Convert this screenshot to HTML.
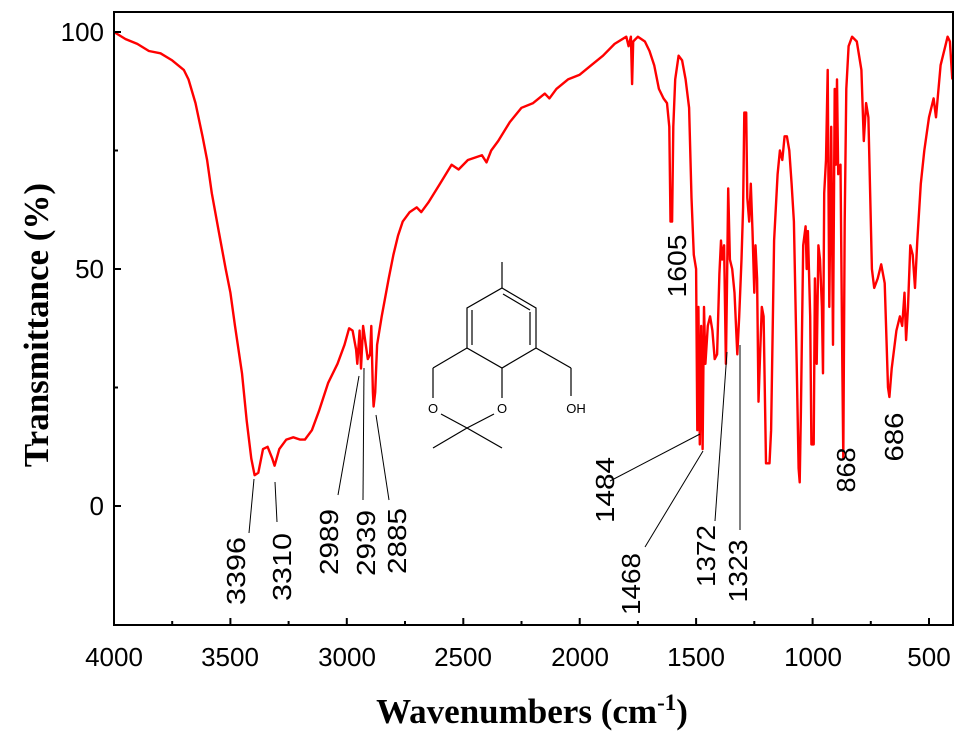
<!DOCTYPE html>
<html><head><meta charset="utf-8"><style>
html,body{margin:0;padding:0;background:#fff;}
svg{display:block;}
</style></head><body>
<svg width="975" height="733" viewBox="0 0 975 733" xmlns="http://www.w3.org/2000/svg">
<rect x="0" y="0" width="975" height="733" fill="#fff"/>
<polyline fill="none" stroke="#f00" stroke-width="2.4" stroke-linejoin="round" points="114,32 125.6,39.1 137.3,43.9 148.9,51 160.5,53.3 172.2,60.4 183.8,69.9 188.5,79.4 195.5,103.1 202.5,136.3 207.1,160 211.8,193.2 218.7,231.1 225.7,269 230.4,292.7 235,325.9 242,373.3 246.7,420.7 251.3,458.6 254.6,475.2 258.3,472.8 263,449.1 267.6,446.8 272.3,458.6 274.6,465.7 279.3,449.1 286.3,439.6 293.3,437.3 300.2,439.6 304.9,439.6 311.9,430.2 318.9,411.2 328.2,382.8 337.5,363.8 344.5,344.8 349.1,328.3 352.6,330.6 356.1,349.6 357.3,363.8 359.6,330.6 361,368.5 363.1,325.9 367.8,359.1 370.1,354.3 371.3,325.9 372.9,392.2 373.6,406.5 375.2,392.2 377.1,344.8 381.7,316.4 388.7,278.5 393.4,254.8 398,235.8 402.7,221.6 409.7,212.1 416.7,207.4 421.3,212.1 428.3,202.6 440,183.7 451.6,164.7 458.6,169.5 467.9,160 481.9,155.2 486.5,162.4 491.2,150.5 498.2,141 509.8,122.1 521.5,107.8 533.1,103.1 544.8,93.6 549.4,98.4 556.4,88.9 568,79.4 579.7,74.7 591.3,65.2 603,55.7 614.6,43.9 626.3,36.7 628.6,46.2 630.9,36.7 632.1,84.1 633.2,41.5 637.9,36.7 644.9,41.5 649.5,51 654.2,65.2 658.9,88.9 663.5,98.4 667,103.1 669.3,126.8 670.5,221.6 672.1,221.6 673.3,126.8 675.2,79.4 678.6,55.7 682.1,60.4 685.6,79.4 689.1,107.8 691.5,197.9 693.8,254.8 696.1,269 697.3,430.2 698.4,306.9 699.8,444.4 701.2,325.9 702.6,449.1 704,306.9 705.4,363.8 707.8,325.9 710.1,316.4 712.4,330.6 714.7,359.1 717.1,354.3 719.4,273.7 721,240.6 722.2,259.5 724.1,245.3 725.9,363.8 726.9,292.7 728.2,188.4 729.9,259.5 732.2,269 734.5,292.7 737.3,354.3 739.2,316.4 741.5,259.5 743.1,207.4 744.3,112.6 746.2,112.6 747.3,197.9 749.2,221.6 750.8,183.7 752.5,231.1 754.3,292.7 755.5,245.3 757.1,278.5 758.5,401.7 760.1,354.3 761.8,306.9 763.6,316.4 766,463.3 769.5,463.3 771.1,430.2 774.1,240.6 777.6,174.2 779.9,150.5 782.3,160 784.6,136.3 786.9,136.3 789.3,150.5 791.6,183.7 793.9,221.6 796.7,363.8 798.6,468.1 799.7,482.3 800.9,411.2 803.2,245.3 805.6,226.3 806.7,269 807.9,231.1 810.2,316.4 811.4,444.4 813.7,444.4 814.9,278.5 816.7,363.8 818.4,245.3 820,259.5 821.9,306.9 823,373.3 824.2,193.2 826,160 827.7,69.9 829.3,306.9 831.2,126.8 833,344.8 834.7,88.9 835.8,164.7 837,79.4 838.2,174.2 840.5,164.7 842.3,363.8 843.3,458.6 844.7,221.6 846.3,88.9 848.6,46.2 852.1,36.7 856.8,41.5 861.4,69.9 863.8,141 866.1,103.1 868.4,117.3 871.9,269 874.2,287.9 877.7,278.5 881.2,264.3 884.7,283.2 888,387.5 889.4,397 891.7,368.5 896.4,330.6 899.9,316.4 902.2,325.9 904.5,292.7 906.1,340.1 908,306.9 910.3,245.3 912.7,254.8 915,287.9 917.3,240.6 920.8,183.7 924.3,150.5 929,117.3 933.6,98.4 936,117.3 940.6,65.2 945.3,46.2 947.6,36.7 949.9,41.5 952.3,79.4"/>
<rect x="114" y="12" width="839" height="613" fill="none" stroke="#000" stroke-width="2"/>
<g stroke="#000" stroke-width="2">
<line x1="114" y1="32" x2="121" y2="32"/><line x1="114" y1="150.5" x2="118" y2="150.5"/>
<line x1="114" y1="269" x2="121" y2="269"/><line x1="114" y1="387.5" x2="118" y2="387.5"/>
<line x1="114" y1="506" x2="121" y2="506"/>
<line x1="172.2" y1="625" x2="172.2" y2="621"/><line x1="230.4" y1="625" x2="230.4" y2="618"/>
<line x1="288.6" y1="625" x2="288.6" y2="621"/><line x1="346.8" y1="625" x2="346.8" y2="618"/>
<line x1="405" y1="625" x2="405" y2="621"/><line x1="463.3" y1="625" x2="463.3" y2="618"/>
<line x1="521.5" y1="625" x2="521.5" y2="621"/><line x1="579.7" y1="625" x2="579.7" y2="618"/>
<line x1="637.9" y1="625" x2="637.9" y2="621"/><line x1="696.1" y1="625" x2="696.1" y2="618"/>
<line x1="754.3" y1="625" x2="754.3" y2="621"/><line x1="812.6" y1="625" x2="812.6" y2="618"/>
<line x1="870.8" y1="625" x2="870.8" y2="621"/><line x1="929" y1="625" x2="929" y2="618"/>
</g>
<g font-family="Liberation Sans, sans-serif" font-size="26" fill="#000" text-anchor="end">
<text x="104" y="41">100</text><text x="104" y="278">50</text><text x="104" y="515">0</text>
</g>
<g font-family="Liberation Sans, sans-serif" font-size="26" fill="#000" text-anchor="middle">
<text x="114" y="666">4000</text><text x="230" y="666">3500</text><text x="347" y="666">3000</text>
<text x="463" y="666">2500</text><text x="580" y="666">2000</text><text x="696" y="666">1500</text>
<text x="813" y="666">1000</text><text x="929" y="666">500</text>
</g>
<text x="532" y="723" font-family="Liberation Serif, serif" font-weight="bold" font-size="35" text-anchor="middle">Wavenumbers (cm<tspan dy="-13" font-size="23">-1</tspan><tspan dy="13">)</tspan></text>
<text transform="translate(48,325) rotate(-90)" font-family="Liberation Serif, serif" font-weight="bold" font-size="35" text-anchor="middle">Transmittance (%)</text>
<g stroke="#000" stroke-width="1">
<line x1="249" y1="533" x2="254" y2="479"/><line x1="277" y1="522" x2="275" y2="482"/>
<line x1="338" y1="495" x2="359" y2="376"/><line x1="363" y1="500" x2="364" y2="368"/>
<line x1="389" y1="500" x2="376" y2="415"/>
<line x1="610" y1="481" x2="700" y2="434"/><line x1="645" y1="547" x2="703" y2="451"/>
<line x1="715" y1="521" x2="727" y2="352"/><line x1="740" y1="530" x2="740" y2="345"/>
</g>
<g font-family="Liberation Sans, sans-serif" font-size="26" fill="#000" text-anchor="middle">
<text transform="translate(245,571) rotate(-90)" textLength="68" lengthAdjust="spacingAndGlyphs">3396</text>
<text transform="translate(291,567) rotate(-90)" textLength="68" lengthAdjust="spacingAndGlyphs">3310</text>
<text transform="translate(338,542) rotate(-90)" textLength="66" lengthAdjust="spacingAndGlyphs">2989</text>
<text transform="translate(375,543) rotate(-90)" textLength="66" lengthAdjust="spacingAndGlyphs">2939</text>
<text transform="translate(406,541) rotate(-90)" textLength="66" lengthAdjust="spacingAndGlyphs">2885</text>
<text transform="translate(686,266) rotate(-90)" textLength="63" lengthAdjust="spacingAndGlyphs">1605</text>
<text transform="translate(614,490) rotate(-90)" textLength="66" lengthAdjust="spacingAndGlyphs">1484</text>
<text transform="translate(640,584) rotate(-90)" textLength="62" lengthAdjust="spacingAndGlyphs">1468</text>
<text transform="translate(715,556) rotate(-90)" textLength="62" lengthAdjust="spacingAndGlyphs">1372</text>
<text transform="translate(747,571) rotate(-90)" textLength="63" lengthAdjust="spacingAndGlyphs">1323</text>
<text transform="translate(855,470) rotate(-90)" textLength="45" lengthAdjust="spacingAndGlyphs">868</text>
<text transform="translate(903,437) rotate(-90)" textLength="49" lengthAdjust="spacingAndGlyphs">686</text>
</g>
<g stroke="#000" stroke-width="1.2" fill="none">
<line x1="502" y1="262" x2="502" y2="288"/>
<polygon points="502,288 536,308 536,348 502,368 467,348 467,308"/>
<line x1="503" y1="294" x2="530" y2="310"/><line x1="530" y1="312" x2="530" y2="345"/><line x1="472" y1="310" x2="472" y2="345"/>
<line x1="467" y1="348" x2="433" y2="368"/><line x1="433" y1="368" x2="433" y2="398"/>
<line x1="502" y1="368" x2="502" y2="398"/>
<line x1="441" y1="414" x2="467" y2="428"/><line x1="494" y1="414" x2="467" y2="428"/>
<line x1="467" y1="428" x2="433" y2="448"/><line x1="467" y1="428" x2="502" y2="448"/>
<line x1="536" y1="348" x2="571" y2="368"/><line x1="571" y1="368" x2="571" y2="396"/>
</g>
<g font-family="Liberation Sans, sans-serif" font-size="13" fill="#000" text-anchor="middle">
<text x="433" y="413">O</text><text x="502" y="413">O</text><text x="576" y="413">OH</text>
</g>
</svg>
</body></html>
